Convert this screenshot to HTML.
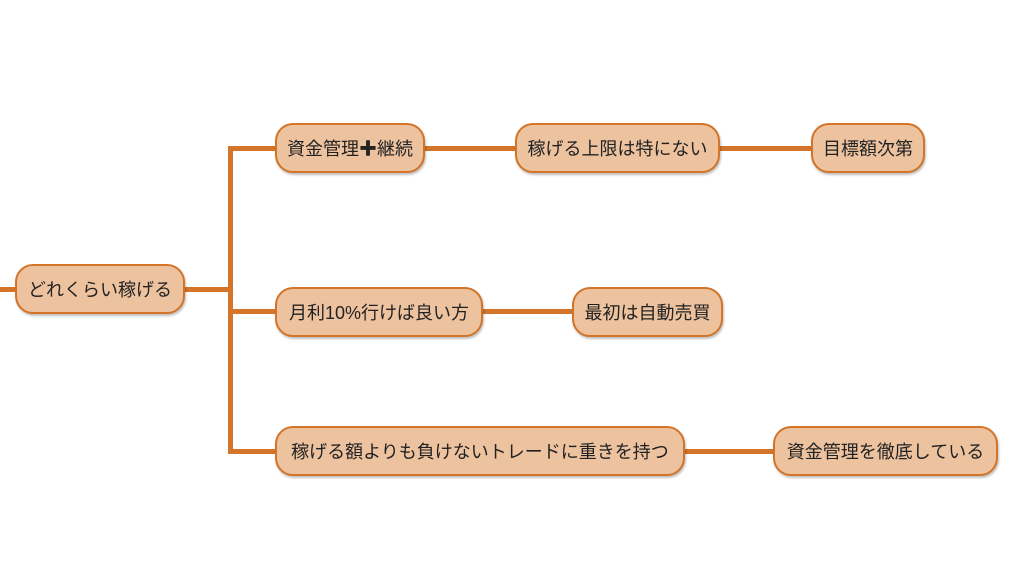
<!DOCTYPE html>
<html><head><meta charset="utf-8"><style>
body{margin:0;width:1024px;height:567px;background:#fff;position:relative;overflow:hidden;font-family:"Liberation Sans","Noto Sans CJK JP",sans-serif}
.n{position:absolute;box-sizing:border-box;height:50px;background:#ecc29f;border:2px solid #d37428;border-radius:18px;display:flex;align-items:center;justify-content:center;font-size:18px;color:#222;box-shadow:1px 2px 2px rgba(0,0,0,.25);white-space:nowrap}
.l{position:absolute;background:#d4752a}
</style></head><body>
<div class="l" style="left:0;top:287px;width:230px;height:5px"></div>
<div class="l" style="left:228px;top:146px;width:5px;height:308px"></div>
<div class="l" style="left:228px;top:146px;width:600px;height:5px"></div>
<div class="l" style="left:228px;top:309px;width:360px;height:5px"></div>
<div class="l" style="left:228px;top:449px;width:560px;height:5px"></div>
<div class="n" style="left:15px;top:264px;width:170px">どれくらい稼げる</div>
<div class="n" style="left:275px;top:123px;width:150px">資金管理<b>✚</b>継続</div>
<div class="n" style="left:515px;top:123px;width:205px">稼げる上限は特にない</div>
<div class="n" style="left:811px;top:123px;width:114px">目標額次第</div>
<div class="n" style="left:275px;top:287px;width:208px">月利10%行けば良い方</div>
<div class="n" style="left:572px;top:287px;width:151px">最初は自動売買</div>
<div class="n" style="left:275px;top:426px;width:410px">稼げる額よりも負けないトレードに重きを持つ</div>
<div class="n" style="left:773px;top:426px;width:225px">資金管理を徹底している</div>
</body></html>
